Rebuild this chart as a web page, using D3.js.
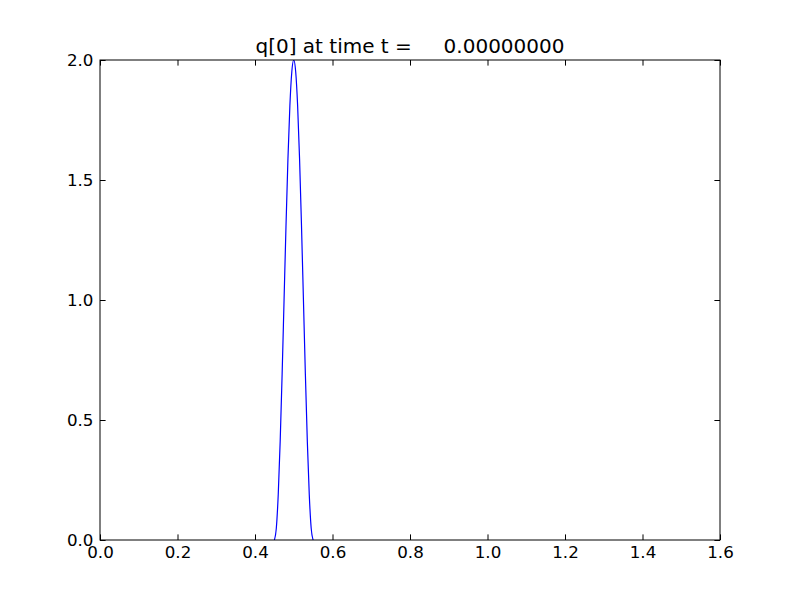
<!DOCTYPE html>
<html><head><meta charset="utf-8">
<script src="https://cdn.jsdelivr.net/npm/d3@7"></script>
<style>body{margin:0;background:#fff}svg{display:block}text{font-family:"DejaVu Sans",sans-serif;}</style>
</head><body>
<script>
const titleText = "q[0] at time t =     0.00000000";
const xVals = [0.450,0.455,0.460,0.465,0.470,0.475,0.480,0.485,0.490,0.495,0.500,0.505,0.510,0.515,0.520,0.525,0.530,0.535,0.540,0.545,0.550];
const qVals = [0.000,0.049,0.191,0.412,0.691,1.000,1.309,1.588,1.809,1.951,2.000,1.951,1.809,1.588,1.309,1.000,0.691,0.412,0.191,0.049,0.000];
const xTicks = [0.0,0.2,0.4,0.6,0.8,1.0,1.2,1.4,1.6];
const yTicks = [0.0,0.5,1.0,1.5,2.0];

const W=800,H=600, L=100,R=720,T=60,B=540;
const svg=d3.select("body").append("svg").attr("width",W).attr("height",H);
svg.append("rect").attr("width",W).attr("height",H).attr("fill","#fff");
const x=d3.scaleLinear().domain([0,1.6]).range([L,R]);
const y=d3.scaleLinear().domain([0,2]).range([B,T]);

svg.append("defs").append("clipPath").attr("id","c").append("rect")
  .attr("x",L).attr("y",T).attr("width",R-L).attr("height",B-T);

svg.append("path").datum(xVals.map((v,i)=>[v,qVals[i]]))
  .attr("clip-path","url(#c)")
  .attr("d",d3.line().curve(d3.curveMonotoneX).x(d=>x(d[0])).y(d=>y(d[1])))
  .attr("fill","none").attr("stroke","#0000ff").attr("stroke-width",1.2);

const tl=5.6;
const fmt=d3.format(".1f");
const g=svg.append("g");
const xb=d3.axisBottom(x).tickValues(xTicks).tickFormat(fmt).tickSizeInner(-tl).tickSizeOuter(0).tickPadding(5.8);
g.append("g").attr("transform",`translate(0,${B})`).call(xb);
const xt=d3.axisTop(x).tickValues(xTicks).tickFormat("").tickSizeInner(-tl).tickSizeOuter(0);
g.append("g").attr("transform",`translate(0,${T})`).call(xt);
const yl=d3.axisLeft(y).tickValues(yTicks).tickFormat(fmt).tickSizeInner(-tl).tickSizeOuter(0).tickPadding(6.5);
g.append("g").attr("transform",`translate(${L},0)`).call(yl);
const yr=d3.axisRight(y).tickValues(yTicks).tickFormat("").tickSizeInner(-tl).tickSizeOuter(0);
g.append("g").attr("transform",`translate(${R},0)`).call(yr);
g.selectAll(".domain").remove();
g.selectAll("text").attr("font-size","16.7px").attr("fill","#000").attr("font-family","DejaVu Sans");
g.selectAll("line").attr("stroke","#000").attr("stroke-width",1);

svg.append("rect").attr("x",L).attr("y",T).attr("width",R-L).attr("height",B-T)
  .attr("fill","none").attr("stroke","#000").attr("stroke-width",1);

svg.append("text").attr("x",(L+R)/2).attr("y",T-7).attr("text-anchor","middle")
  .attr("font-size","20px").style("white-space","pre").attr("xml:space","preserve").text(titleText);
</script>
</body></html>
